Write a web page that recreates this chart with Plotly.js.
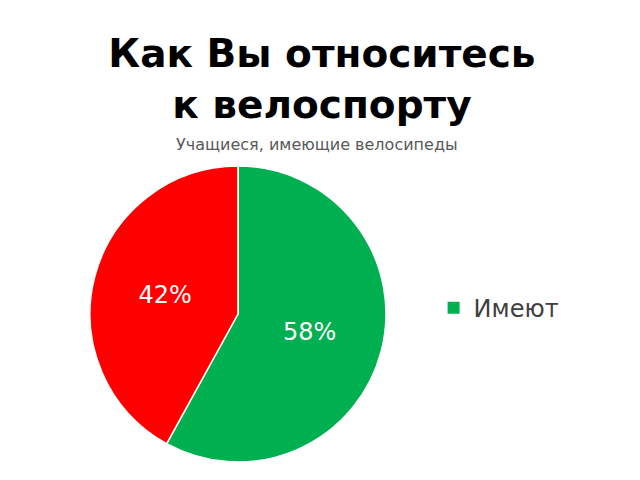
<!DOCTYPE html>
<html>
<head>
<meta charset="utf-8">
<script src="https://cdn.plot.ly/plotly-3.0.1.min.js"></script>
<style>
  html, body { margin: 0; padding: 0; background: #fff; }
  #graph { width: 640px; height: 480px; }
</style>
</head>
<body>
<div id="graph"></div>
<script>
(function(){
'use strict';

  var graph = document.getElementById('graph');

  // Data.
  var labels = ['Имеют', 'Не имеют'];
  var values = [58, 42];
  var colors = ['#00B050', '#FF0000'];
  var legendLabels = ['Имеют'];

  var titleText = 'Как Вы относитесь<br>к велоспорту';
  var subtitleText = 'Учащиеся, имеющие велосипеды';

  var pie = {
    type: 'pie',
    labels: labels,
    values: values,
    sort: false,
    direction: 'clockwise',
    rotation: 0,
    marker: { colors: colors, line: { color: '#ffffff', width: 1.5 } },
    textinfo: 'percent',
    texttemplate: '%{percent:.0%}',
    textposition: 'inside',
    insidetextfont: { color: '#ffffff', size: 24, family: 'DejaVu Sans' },
    hoverinfo: 'label+percent',
    showlegend: false,
    domain: { x: [0.1406, 0.6031], y: [0.0375, 0.6542] }
  };

  // Legend shows only the first category, as in the picture.
  var legendTrace = {
    type: 'scatter',
    mode: 'markers',
    x: [null],
    y: [null],
    name: legendLabels[0],
    marker: { symbol: 'square', color: colors[0], size: 12 },
    showlegend: true,
    hoverinfo: 'skip'
  };

  var layout = {
    width: 640,
    height: 480,
    margin: { l: 0, r: 0, t: 0, b: 0 },
    paper_bgcolor: '#ffffff',
    plot_bgcolor: '#ffffff',
    font: { family: 'DejaVu Sans', color: '#404040' },
    title: {
      text: titleText,
      font: { family: 'DejaVu Sans', size: 39, color: '#000000', weight: 'bold' },
      x: 0.503,
      xanchor: 'center',
      yref: 'container',
      y: 0.86,
      yanchor: 'top'
    },
    xaxis: { visible: false },
    yaxis: { visible: false },
    showlegend: true,
    legend: {
      x: 0.6775,
      xanchor: 'left',
      y: 0.358,
      yanchor: 'middle',
      font: { size: 24, color: '#404040', family: 'DejaVu Sans' },
      itemwidth: 30
    },
    annotations: [{
      text: subtitleText,
      xref: 'paper',
      yref: 'paper',
      x: 0.495,
      y: 0.698,
      xanchor: 'center',
      yanchor: 'middle',
      showarrow: false,
      font: { size: 16, color: '#595959', family: 'DejaVu Sans' }
    }]
  };

  var conf = { displayModeBar: false, staticPlot: true };

  Plotly.newPlot(graph, [pie, legendTrace], layout, conf);

})();
</script>
</body>
</html>
